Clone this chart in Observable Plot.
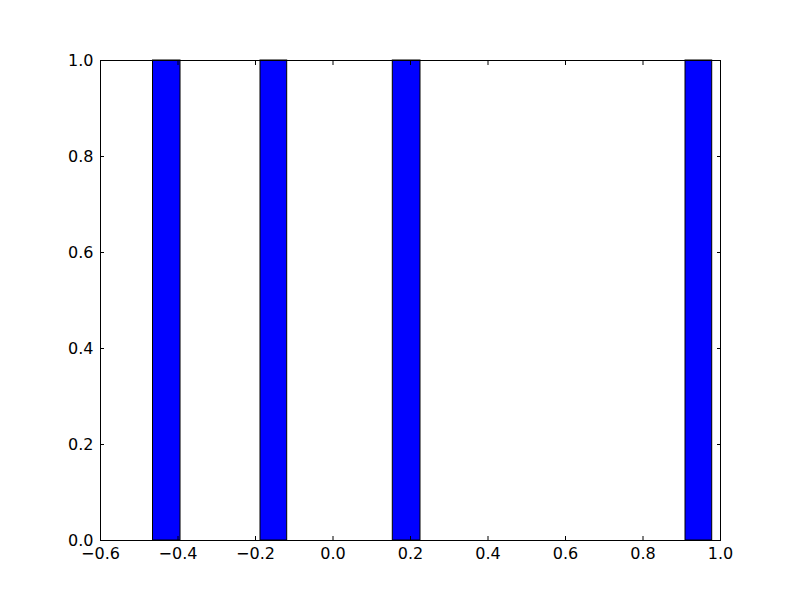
<!DOCTYPE html>
<html>
<head>
<meta charset="utf-8">
<script src="https://cdn.jsdelivr.net/npm/d3@7"></script>
<script src="https://cdn.jsdelivr.net/npm/@observablehq/plot@0.6"></script>
<style>
  html, body { margin: 0; padding: 0; background: #fff; }
  svg { font-family: "DejaVu Sans", sans-serif; }
</style>
</head>
<body>
<div id="chart"></div>
<script>
const binStart = [-0.4645, -0.1871, 0.1543, 0.9097];
const binEnd   = [-0.3935, -0.1182, 0.2258, 0.9786];
const counts   = [1, 1, 1, 1];
const xTicks = [-0.6, -0.4, -0.2, 0.0, 0.2, 0.4, 0.6, 0.8, 1.0];
const yTicks = [0.0, 0.2, 0.4, 0.6, 0.8, 1.0];

const bars = binStart.map((s, i) => ({x1: s, x2: binEnd[i], y: counts[i]}));
const fmt = d => (d < 0 ? "\u2212" : "") + Math.abs(d).toFixed(1);

const chart = Plot.plot({
  width: 800,
  height: 600,
  marginLeft: 100,
  marginRight: 80,
  marginTop: 60,
  marginBottom: 60,
  style: {fontSize: "16px", fontFamily: "DejaVu Sans", color: "black", background: "white"},
  x: {domain: [-0.6, 1.0]},
  y: {domain: [0, 1]},
  marks: [
    Plot.rectY(bars, {x1: "x1", x2: "x2", y1: 0, y2: "y", fill: "#0000ff", stroke: "black", strokeWidth: 1}),
    Plot.axisX({anchor: "bottom", ticks: xTicks, tickSize: -4, tickPadding: 11, tickFormat: fmt, label: null, stroke: "black", fill: "black"}),
    Plot.axisX({anchor: "top", ticks: xTicks, tickSize: -4, tickFormat: () => "", label: null, stroke: "black"}),
    Plot.axisY({anchor: "left", ticks: yTicks, tickSize: -4, tickPadding: 11, tickFormat: fmt, label: null, stroke: "black", fill: "black"}),
    Plot.axisY({anchor: "right", ticks: yTicks, tickSize: -4, tickFormat: () => "", label: null, stroke: "black"}),
    Plot.frame({stroke: "black", strokeWidth: 1})
  ]
});
document.getElementById("chart").appendChild(chart);
</script>
</body>
</html>
